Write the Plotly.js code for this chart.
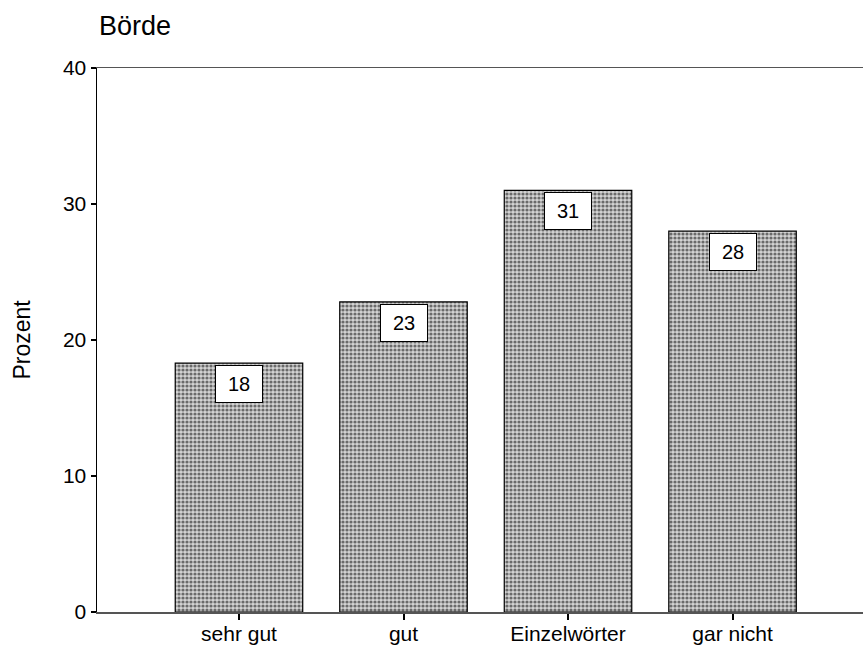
<!DOCTYPE html>
<html>
<head>
<meta charset="utf-8">
<script src="https://cdn.plot.ly/plotly-3.0.1.min.js"></script>
<style>html,body{margin:0;padding:0;background:#fff}#chart{width:863px;height:649px}</style>
</head>
<body>
<div id="chart"></div>
<script>
var categories = ["sehr gut", "gut", "Einzelwörter", "gar nicht"];
var values = [18.3, 22.8, 31.0, 28.0];
var labels = ["18", "23", "31", "28"];
var yTicks = [0, 10, 20, 30, 40];

var trace = {
  type: "bar",
  x: categories,
  y: values,
  width: 0.775,
  marker: {
    color: "#ffffff",
    line: {color: "#000000", width: 1.2},
    pattern: {shape: ".", fgcolor: "#000000", bgcolor: "#d4d4d4", size: 4, solidity: 0.5, fillmode: "overlay"}
  },
  hoverinfo: "skip"
};

var annotations = categories.map(function (c, i) {
  return {
    x: c, y: values[i], xref: "x", yref: "y",
    text: labels[i], showarrow: false,
    yanchor: "top", yshift: -2,
    font: {family: "Liberation Sans, Arial, sans-serif", size: 20, color: "#000"},
    bgcolor: "#ffffff", bordercolor: "#000000", borderwidth: 1,
    width: 46, height: 36, borderpad: 0
  };
});

var layout = {
  width: 863, height: 649,
  margin: {l: 97, r: 0, t: 68, b: 37},
  paper_bgcolor: "#ffffff", plot_bgcolor: "#ffffff",
  showlegend: false,
  font: {family: "Liberation Sans, Arial, sans-serif", color: "#000"},
  title: {
    text: "Börde", xref: "container", yref: "container",
    x: 99 / 863, xanchor: "left", y: 1 - 26 / 649, yanchor: "middle",
    font: {size: 27, color: "#000"}
  },
  xaxis: {
    type: "category",
    range: [-0.863, 3.793],
    showgrid: false, zeroline: false,
    showline: true, linecolor: "#555555", linewidth: 1.5, mirror: true,
    ticks: "outside", ticklen: 6, tickwidth: 2, tickcolor: "#000",
    ticklabelstandoff: -4,
    tickfont: {size: 21, color: "#000"},
    fixedrange: true
  },
  yaxis: {
    range: [0, 40],
    tickvals: yTicks, ticktext: yTicks.map(String),
    showgrid: false, zeroline: false,
    showline: true, linecolor: "#000000", linewidth: 1.5,
    ticks: "outside", ticklen: 5, tickwidth: 1.5, tickcolor: "#000",
    tickfont: {size: 21, color: "#000"},
    title: {text: "Prozent", font: {size: 23, color: "#000"}, standoff: 26},
    fixedrange: true
  },
  annotations: annotations
};

Plotly.newPlot("chart", [trace], layout, {staticPlot: true, displayModeBar: false});
</script>
</body>
</html>
